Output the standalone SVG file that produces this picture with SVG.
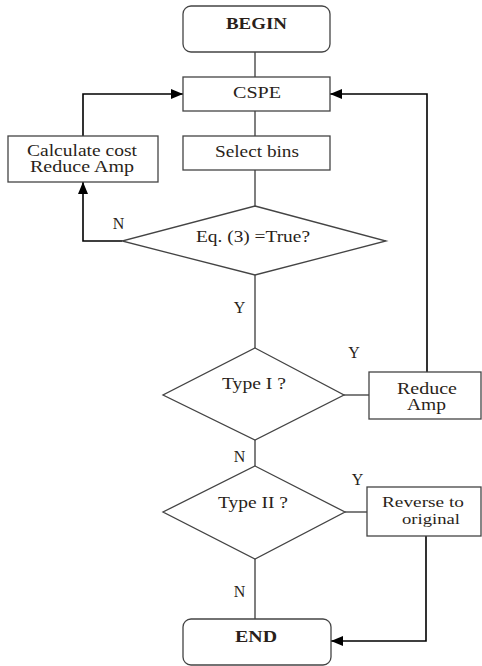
<svg xmlns="http://www.w3.org/2000/svg" width="482" height="666" viewBox="0 0 482 666">
<defs>
<marker id="ah" markerWidth="12" markerHeight="10" refX="12" refY="5" orient="auto" markerUnits="userSpaceOnUse">
<path d="M0,0 L12,5 L0,10 Z" fill="#000"/>
</marker>
<style>
.box{fill:#fff;stroke:#444;stroke-width:1.3}
.ln{fill:none;stroke:#555;stroke-width:1.5}
.blk{fill:none;stroke:#000;stroke-width:1.6}
text{font-family:"Liberation Serif","Times New Roman",serif;font-size:16px;fill:#2a1f1a;text-anchor:middle}
.b{font-weight:bold}
.s{font-size:15px}
</style>
</defs>
<rect width="482" height="666" fill="#fff"/>
<g id="connectors">
<line class="ln" x1="255" y1="52" x2="255" y2="77"/>
<line class="ln" x1="255" y1="111" x2="255" y2="136"/>
<line class="ln" x1="255" y1="170" x2="255" y2="206"/>
<line class="ln" x1="255" y1="275" x2="255" y2="348"/>
<line class="ln" x1="255" y1="440" x2="255" y2="466"/>
<line class="ln" x1="255" y1="559" x2="255" y2="619"/>
<line class="ln" x1="344" y1="395" x2="369" y2="395"/>
<line class="ln" x1="345" y1="512" x2="367" y2="512"/>
<polyline class="blk" points="122,241 83,241 83,182" marker-end="url(#ah)"/>
<polyline class="blk" points="83,136 83,94 183,94" marker-end="url(#ah)"/>
<polyline class="blk" points="427,372 427,94 330,94" marker-end="url(#ah)"/>
<polyline class="blk" points="426,536 426,641 331,641" marker-end="url(#ah)"/>
<text x="118.5" y="229">N</text>
<text x="239.5" y="313">Y</text>
<text x="354" y="358">Y</text>
<text x="239.5" y="462">N</text>
<text x="357.5" y="485">Y</text>
<text x="239.5" y="597">N</text>
</g>
<g id="begin">
<rect class="box" x="183" y="6" width="147" height="46" rx="8"/>
<text class="b" x="256.5" y="29" textLength="61" lengthAdjust="spacingAndGlyphs">BEGIN</text>
</g>
<g id="cspe">
<rect class="box" x="183" y="77" width="147" height="34"/>
<text x="257" y="98" textLength="48" lengthAdjust="spacingAndGlyphs">CSPE</text>
</g>
<g id="select">
<rect class="box" x="183" y="136" width="147" height="34"/>
<text x="257" y="157" textLength="84" lengthAdjust="spacingAndGlyphs">Select bins</text>
</g>
<g id="calc">
<rect class="box" x="8" y="136" width="150" height="46"/>
<text x="82" y="156" textLength="110" lengthAdjust="spacingAndGlyphs">Calculate cost</text>
<text x="82" y="172" textLength="104" lengthAdjust="spacingAndGlyphs">Reduce Amp</text>
</g>
<g id="eq3">
<polygon class="box" points="255,206 386,241 255,275 122,241"/>
<text x="253" y="242" textLength="114" lengthAdjust="spacingAndGlyphs">Eq. (3) =True?</text>
</g>
<g id="type1">
<polygon class="box" points="255,348 344,395 255,440 163,395"/>
<text x="254" y="389" textLength="64" lengthAdjust="spacingAndGlyphs">Type I ?</text>
</g>
<g id="reduce">
<rect class="box" x="369" y="372" width="112" height="47"/>
<text x="427" y="394" textLength="60" lengthAdjust="spacingAndGlyphs">Reduce</text>
<text x="426.5" y="410" textLength="39" lengthAdjust="spacingAndGlyphs">Amp</text>
</g>
<g id="type2">
<polygon class="box" points="255,466 345,512 255,559 163,512"/>
<text x="253" y="508" textLength="70" lengthAdjust="spacingAndGlyphs">Type II ?</text>
</g>
<g id="reverse">
<rect class="box" x="367" y="487" width="114" height="49"/>
<text class="s" x="423" y="507" textLength="82" lengthAdjust="spacingAndGlyphs">Reverse to</text>
<text class="s" x="431" y="524" textLength="58" lengthAdjust="spacingAndGlyphs">original</text>
</g>
<g id="end">
<rect class="box" x="183" y="619" width="148" height="46" rx="8"/>
<text class="b" x="256" y="642" textLength="42" lengthAdjust="spacingAndGlyphs">END</text>
</g>
</svg>
